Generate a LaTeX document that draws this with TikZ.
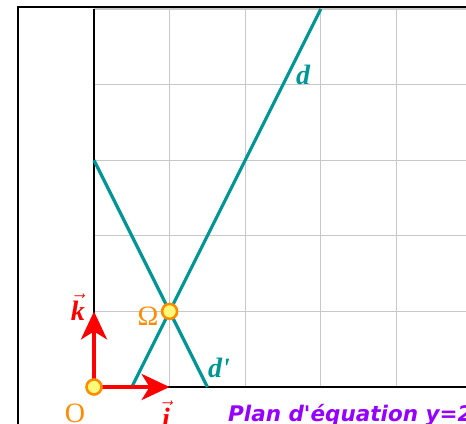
\documentclass[tikz,border=0pt]{standalone}
\usepackage{fontspec}
\setmainfont{Liberation Serif}[Ligatures=TeXOff]
\newfontfamily\plansans{DejaVu Sans}[Ligatures=TeXOff]
\usetikzlibrary{arrows.meta}
\definecolor{dteal}{RGB}{0,150,150}
\definecolor{ptorange}{RGB}{255,140,0}
\definecolor{ptfill}{RGB}{255,250,120}
\definecolor{planpurple}{RGB}{150,0,255}
\definecolor{gridgray}{RGB}{200,200,200}
\tikzset{
  gridline/.style={draw=gridgray, line width=1.2bp},
  axisline/.style={draw=black, line width=2.4bp},
  frameline/.style={draw=black, line width=2bp},
  dline/.style={draw=dteal, line width=3.2bp},
  vecarrow/.style={draw=red, line width=3.8bp, -{Stealth[length=28bp,width=26bp,inset=8bp]}},
  ptdot/.style={circle, draw=ptorange, fill=ptfill, line width=2.6bp, minimum size=15bp, inner sep=0pt},
  tealtxt/.style={inner sep=0pt, text=dteal, font=\fontsize{28bp}{32bp}\selectfont\bfseries\itshape},
  redtxt/.style={inner sep=0pt, text=red, font=\fontsize{28bp}{32bp}\selectfont},
  orangetxt/.style={inner sep=0pt, text=ptorange, font=\fontsize{28bp}{32bp}\selectfont},
}
\begin{document}
\begin{tikzpicture}[x=75.6bp,y=75.6bp]
\useasboundingbox (-1.24339,-0.48942) rectangle (4.92063,5.11905);
% frame
\draw[frameline] (-1,-1.5) rectangle (6,5.02);
% grid
\foreach \k in {1,...,5} {\draw[gridline] (\k,0) -- (\k,5);}
\foreach \k in {1,...,5} {\draw[gridline] (0,\k) -- (5.5,\k);}
% axes
\coordinate (O) at (0,0);
\coordinate (ytop) at (0,5);
\coordinate (xend) at (5.5,0);
\draw[axisline] (O) -- (ytop);
\draw[axisline] (O) -- (xend);
% lines d and d'
\coordinate (d0) at (0.5,0);
\coordinate (d1) at (3,5);
\coordinate (e0) at (0,3);
\coordinate (e1) at (1.5,0);
\draw[dline] (d0) -- (d1);
\draw[dline] (e0) -- (e1);
% basis vectors
\coordinate (ei) at (1,0);
\coordinate (ek) at (0,1);
\draw[vecarrow] (O) -- (ei);
\draw[vecarrow] (O) -- (ek);
% points
\node[ptdot] (Opt) at (O) {};
\node[ptdot] (Om) at (1,1) {};
% labels
\node[tealtxt] (ld) at (2.765,4.127) {d};
\node[tealtxt] (ldp) at (1.653,0.251) {d'};
\node[orangetxt] (lOm) at (0.714,0.939) {Ω};
\node[orangetxt] (lO) at (-0.251,-0.344) {O};
\node[redtxt] (lk) at (-0.212,1.06) {$\vec{\mbox{\bfseries\itshape k}}$};
\node[redtxt] (li) at (0.952,-0.36) {$\vec{\mbox{\bfseries\itshape i}}$};
\node[anchor=base west, inner sep=0pt, text=planpurple, font=\fontsize{21.5bp}{25bp}\selectfont\plansans\bfseries\itshape] (plan) at (1.772,-0.45) {Plan d'équation y=2};
\end{tikzpicture}
\end{document}
